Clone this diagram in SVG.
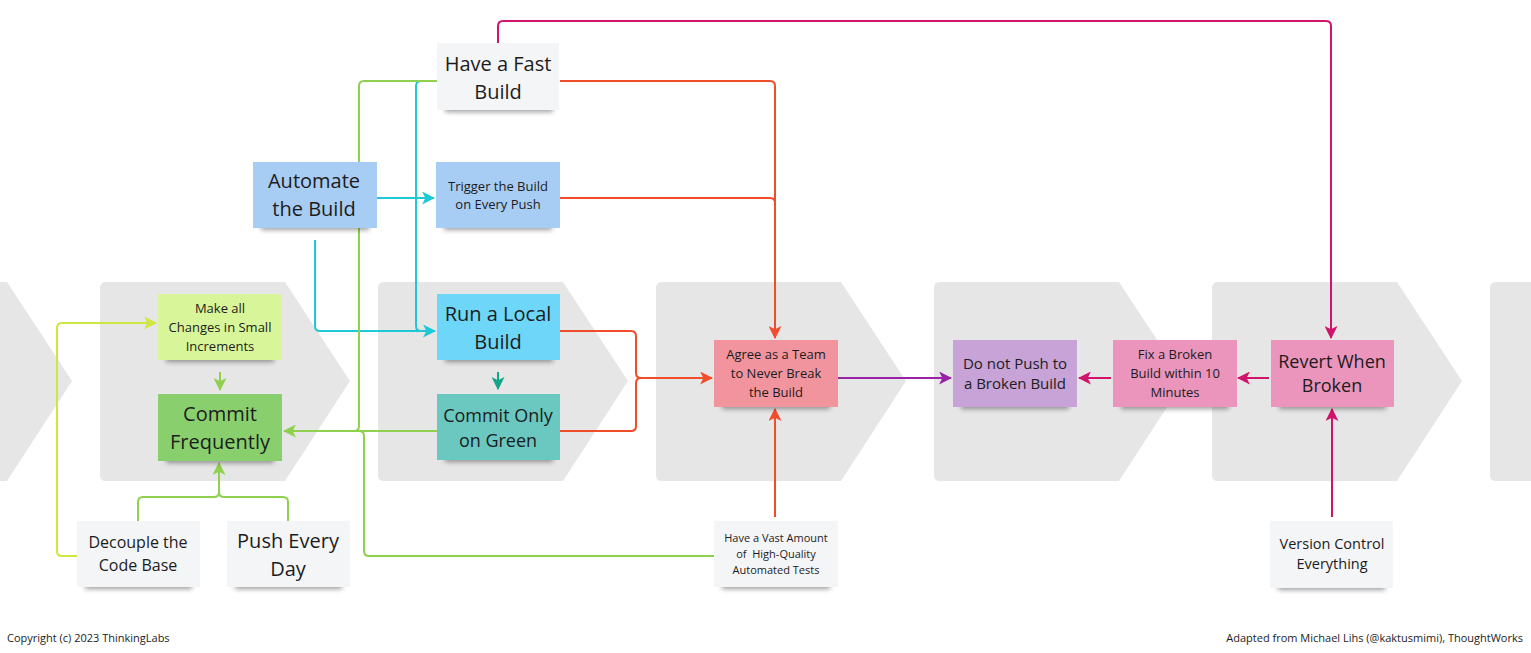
<svg xmlns="http://www.w3.org/2000/svg" width="1531" height="653" viewBox="0 0 1531 653">
<style>
  .chev{fill:#e6e6e6}
  .note text{font-family:"Open Sans","Liberation Sans",sans-serif;fill:#1c1c1c;text-anchor:middle;dominant-baseline:central}
  .sh{fill:#000;opacity:.38;filter:url(#blur)}
  .c{fill:none;stroke-width:2;stroke-linejoin:round;stroke-linecap:butt}
  .foot{font-family:"Open Sans","Liberation Sans",sans-serif;font-size:11px;fill:#1c1c1c}
</style>
<defs>
  <filter id="blur" x="-20%" y="-100%" width="140%" height="300%"><feGaussianBlur stdDeviation="2.5"/></filter>
  <marker id="aRed" viewBox="0 0 12 12" refX="11" refY="6" markerWidth="13" markerHeight="13" markerUnits="userSpaceOnUse" orient="auto"><path d="M0,0 L12,6 L0,12 L3,6 z" fill="#f24d2b"/></marker>
  <marker id="aPink" viewBox="0 0 12 12" refX="11" refY="6" markerWidth="13" markerHeight="13" markerUnits="userSpaceOnUse" orient="auto"><path d="M0,0 L12,6 L0,12 L3,6 z" fill="#d1136b"/></marker>
  <marker id="aPurple" viewBox="0 0 12 12" refX="11" refY="6" markerWidth="13" markerHeight="13" markerUnits="userSpaceOnUse" orient="auto"><path d="M0,0 L12,6 L0,12 L3,6 z" fill="#9a22a8"/></marker>
  <marker id="aGreen" viewBox="0 0 12 12" refX="11" refY="6" markerWidth="13" markerHeight="13" markerUnits="userSpaceOnUse" orient="auto"><path d="M0,0 L12,6 L0,12 L3,6 z" fill="#8fd14f"/></marker>
  <marker id="aYel" viewBox="0 0 12 12" refX="11" refY="6" markerWidth="13" markerHeight="13" markerUnits="userSpaceOnUse" orient="auto"><path d="M0,0 L12,6 L0,12 L3,6 z" fill="#cee741"/></marker>
  <marker id="aCyan" viewBox="0 0 12 12" refX="11" refY="6" markerWidth="13" markerHeight="13" markerUnits="userSpaceOnUse" orient="auto"><path d="M0,0 L12,6 L0,12 L3,6 z" fill="#1fc8d6"/></marker>
  <marker id="aTeal" viewBox="0 0 12 12" refX="11" refY="6" markerWidth="13" markerHeight="13" markerUnits="userSpaceOnUse" orient="auto"><path d="M0,0 L12,6 L0,12 L3,6 z" fill="#14a589"/></marker>
  <path id="chevShape" d="M6,0 H185 L250,99 L185,199 H6 Q0,199 0,193 V6 Q0,0 6,0 z"/>
</defs>
<rect width="1531" height="653" fill="#ffffff"/>

<g id="stages">
  <use href="#chevShape" class="chev" x="-178" y="282"/>
  <use href="#chevShape" class="chev" x="100" y="282"/>
  <use href="#chevShape" class="chev" x="378" y="282"/>
  <use href="#chevShape" class="chev" x="656" y="282"/>
  <use href="#chevShape" class="chev" x="934" y="282"/>
  <use href="#chevShape" class="chev" x="1212" y="282"/>
  <use href="#chevShape" class="chev" x="1490" y="282"/>
</g>

<g id="connectors">
  <path class="c" stroke="#d1136b" d="M498,43 V26 Q498,21 503,21 H1326 Q1331,21 1331,26 V338" marker-end="url(#aPink)"/>
  <path class="c" stroke="#d1136b" d="M1269,378 H1238" marker-end="url(#aPink)"/>
  <path class="c" stroke="#d1136b" d="M1111,378 H1079" marker-end="url(#aPink)"/>
  <path class="c" stroke="#d1136b" d="M1332,517 V409" marker-end="url(#aPink)"/>
  <path class="c" stroke="#9a22a8" d="M838,378 H951" marker-end="url(#aPurple)"/>
  <path class="c" stroke="#f24d2b" d="M560,81 H770 Q775,81 775,86 V338" marker-end="url(#aRed)"/>
  <path class="c" stroke="#f24d2b" d="M560,198 H770 Q775,198 775,203"/>
  <path class="c" stroke="#f24d2b" d="M560,331 H631 Q636,331 636,336 V373 Q636,378 641,378 H712" marker-end="url(#aRed)"/>
  <path class="c" stroke="#f24d2b" d="M560,431 H631 Q636,431 636,426 V383 Q636,378 641,378"/>
  <path class="c" stroke="#f24d2b" d="M775,517 V409" marker-end="url(#aRed)"/>
  <path class="c" stroke="#1fc8d6" d="M376,198 H434" marker-end="url(#aCyan)"/>
  <path class="c" stroke="#1fc8d6" d="M437,81 H421 Q416,81 416,86 V326 Q416,331 421,331 H435" marker-end="url(#aCyan)"/>
  <path class="c" stroke="#1fc8d6" d="M315,240 V326 Q315,331 320,331 H420"/>
  <path class="c" stroke="#8fd14f" d="M437,81 H364 Q359,81 359,86 V426 Q359,431 354,431 H290"/>
  <path class="c" stroke="#8fd14f" d="M714,556 H369 Q364,556 364,551 V436 Q364,431 359,431"/>
  <path class="c" stroke="#8fd14f" d="M437,431 H284" marker-end="url(#aGreen)"/>
  <path class="c" stroke="#8fd14f" d="M138,521 V502 Q138,497 143,497 H214 Q219,497 219,492 V463" marker-end="url(#aGreen)"/>
  <path class="c" stroke="#8fd14f" d="M288,521 V502 Q288,497 283,497 H224 Q219,497 219,492"/>
  <path class="c" stroke="#8fd14f" d="M220,372 V390" marker-end="url(#aGreen)"/>
  <path class="c" stroke="#cee741" d="M77,556 H62 Q57,556 57,551 V328 Q57,323 62,323 H156" marker-end="url(#aYel)"/>
  <path class="c" stroke="#14a589" d="M498,372 V389" marker-end="url(#aTeal)"/>
</g>

<g id="n-fastbuild" class="note">
  <rect class="sh" x="445" y="100" width="108" height="12"/>
  <rect x="437" y="43" width="122" height="67" fill="#f4f5f7"/>
  <text font-size="20" x="498" y="63">Have a Fast</text>
  <text font-size="20" x="498" y="91">Build</text>
</g>
<g id="n-automate" class="note">
  <rect class="sh" x="261" y="218" width="108" height="12"/>
  <rect x="253" y="162" width="124" height="66" fill="#a8cdf4"/>
  <text font-size="20" x="314" y="180">Automate</text>
  <text font-size="20" x="314" y="208">the Build</text>
</g>
<g id="n-trigger" class="note">
  <rect class="sh" x="444" y="218" width="108" height="12"/>
  <rect x="436" y="162" width="124" height="66" fill="#a8cdf4"/>
  <text font-size="13" x="498" y="186">Trigger the Build</text>
  <text font-size="13" x="498" y="204">on Every Push</text>
</g>
<g id="n-runlocal" class="note">
  <rect class="sh" x="445" y="350" width="108" height="12"/>
  <rect x="437" y="294" width="123" height="66" fill="#6dd6f9"/>
  <text font-size="20" x="498" y="313">Run a Local</text>
  <text font-size="20" x="498" y="341">Build</text>
</g>
<g id="n-commitgreen" class="note">
  <rect class="sh" x="445" y="450" width="108" height="12"/>
  <rect x="437" y="394" width="123" height="66" fill="#6ac8c0"/>
  <text font-size="18" x="498" y="415">Commit Only</text>
  <text font-size="18" x="498" y="440">on Green</text>
</g>
<g id="n-smallinc" class="note">
  <rect class="sh" x="166" y="350" width="108" height="12"/>
  <rect x="158" y="294" width="124" height="66" fill="#d8f699"/>
  <text font-size="13" x="220" y="308">Make all</text>
  <text font-size="13" x="220" y="327">Changes in Small</text>
  <text font-size="13" x="220" y="346">Increments</text>
</g>
<g id="n-commitfreq" class="note">
  <rect class="sh" x="166" y="451" width="108" height="12"/>
  <rect x="158" y="394" width="124" height="67" fill="#89cf6e"/>
  <text font-size="20" x="220" y="413">Commit</text>
  <text font-size="20" x="220" y="441">Frequently</text>
</g>
<g id="n-decouple" class="note">
  <rect class="sh" x="85" y="577" width="107" height="12"/>
  <rect x="77" y="521" width="123" height="66" fill="#f4f5f7"/>
  <text font-size="16" x="138" y="542">Decouple the</text>
  <text font-size="16" x="138" y="565">Code Base</text>
</g>
<g id="n-pushday" class="note">
  <rect class="sh" x="235" y="577" width="107" height="12"/>
  <rect x="227" y="521" width="123" height="66" fill="#f4f5f7"/>
  <text font-size="20" x="288" y="540">Push Every</text>
  <text font-size="20" x="288" y="568">Day</text>
</g>
<g id="n-agree" class="note">
  <rect class="sh" x="722" y="397" width="108" height="12"/>
  <rect x="714" y="340" width="124" height="67" fill="#f1949d"/>
  <text font-size="13" x="776" y="354">Agree as a Team</text>
  <text font-size="13" x="776" y="373">to Never Break</text>
  <text font-size="13" x="776" y="392">the Build</text>
</g>
<g id="n-vasttests" class="note">
  <rect class="sh" x="722" y="577" width="108" height="12"/>
  <rect x="714" y="521" width="124" height="66" fill="#f4f5f7"/>
  <text font-size="11" x="776" y="537">Have a Vast Amount</text>
  <text font-size="11" x="776" y="553" xml:space="preserve">of  High-Quality</text>
  <text font-size="11" x="776" y="569">Automated Tests</text>
</g>
<g id="n-donotpush" class="note">
  <rect class="sh" x="961" y="397" width="108" height="12"/>
  <rect x="953" y="340" width="124" height="67" fill="#c8a3d7"/>
  <text font-size="15" x="1015" y="363">Do not Push to</text>
  <text font-size="15" x="1015" y="383">a Broken Build</text>
</g>
<g id="n-fix" class="note">
  <rect class="sh" x="1121" y="397" width="108" height="12"/>
  <rect x="1113" y="340" width="124" height="67" fill="#eb95bd"/>
  <text font-size="13" x="1175" y="354">Fix a Broken</text>
  <text font-size="13" x="1175" y="373">Build within 10</text>
  <text font-size="13" x="1175" y="392">Minutes</text>
</g>
<g id="n-revert" class="note">
  <rect class="sh" x="1279" y="397" width="107" height="12"/>
  <rect x="1271" y="340" width="123" height="67" fill="#eb95bd"/>
  <text font-size="18" x="1332" y="361">Revert When</text>
  <text font-size="18" x="1332" y="385">Broken</text>
</g>
<g id="n-vcs" class="note">
  <rect class="sh" x="1278" y="578" width="107" height="12"/>
  <rect x="1270" y="521" width="123" height="67" fill="#f4f5f7"/>
  <text font-size="14.5" x="1332" y="543">Version Control</text>
  <text font-size="14.5" x="1332" y="563">Everything</text>
</g>

<g id="footer">
  <text class="foot" x="7" y="642">Copyright (c) 2023 ThinkingLabs</text>
  <text class="foot" x="1523" y="642" text-anchor="end">Adapted from Michael Lihs (@kaktusmimi), ThoughtWorks</text>
</g>
</svg>
